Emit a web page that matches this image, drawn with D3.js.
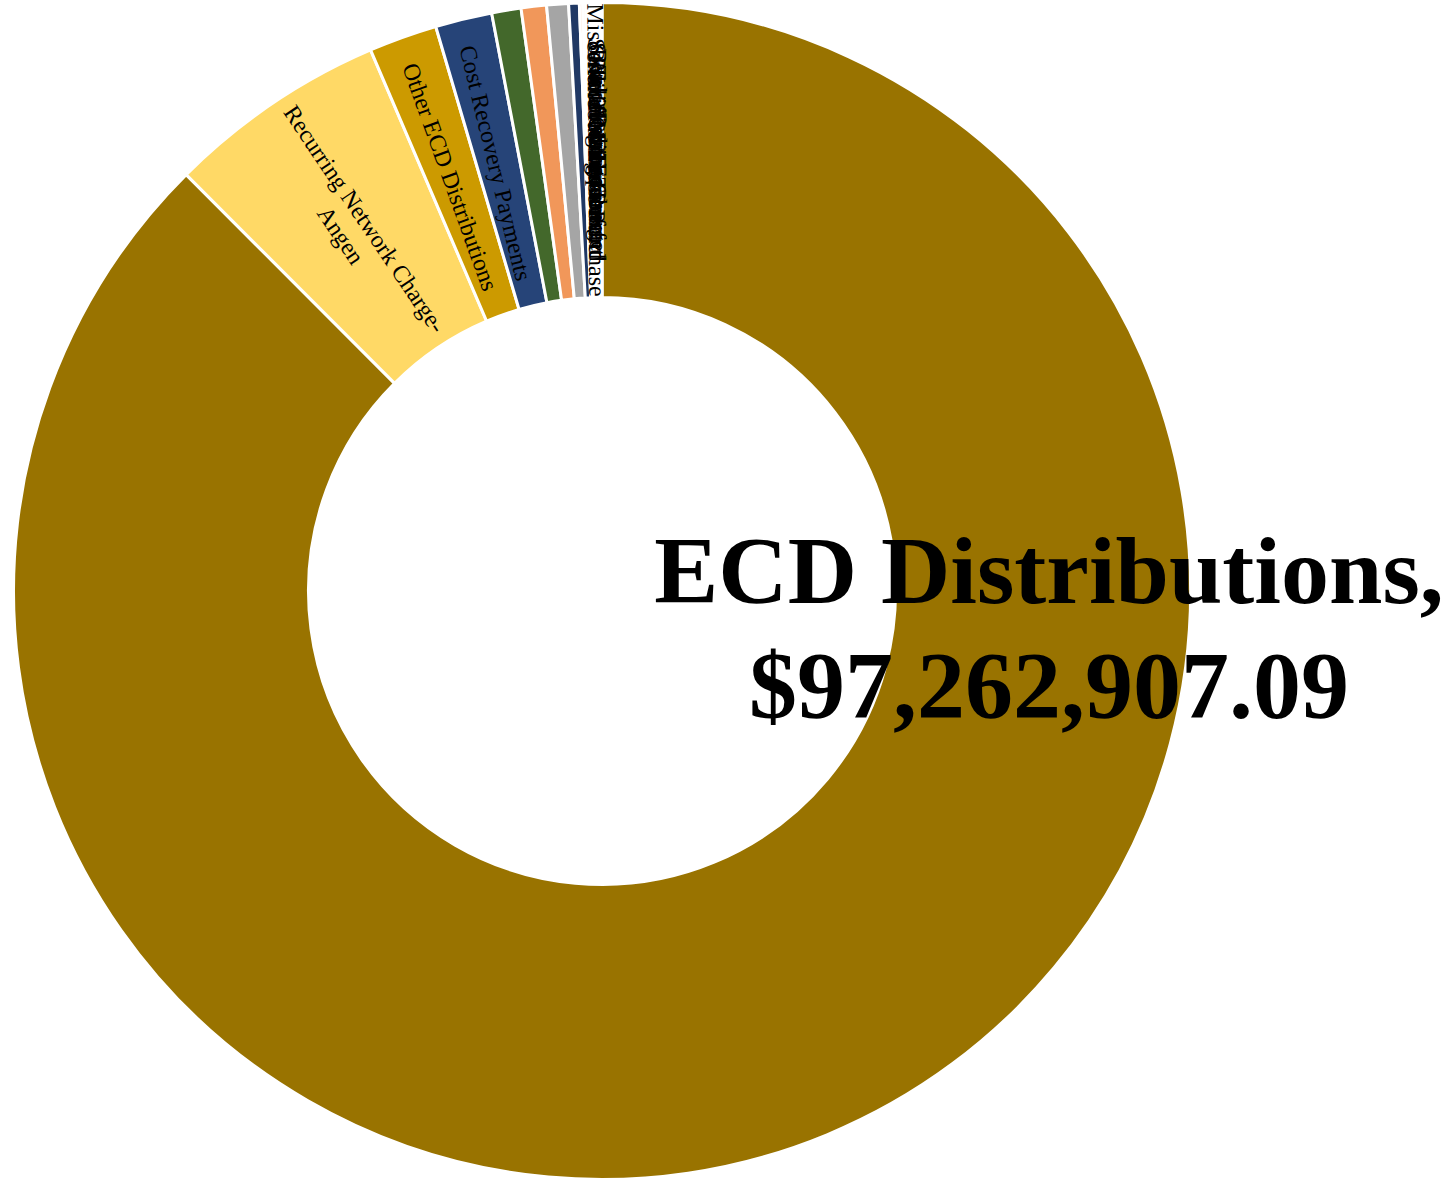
<!DOCTYPE html>
<html>
<head>
<meta charset="utf-8">
<script src="https://cdn.jsdelivr.net/npm/d3@7"></script>
<style>
  html, body { margin: 0; padding: 0; background: #ffffff; }
  svg { display: block; }
</style>
</head>
<body>
<svg id="chart" width="1448" height="1180"></svg>
<script>
// ---- Data ----
const categories = [
  "ECD Distributions",
  "Recurring Network Charge-Angen",
  "Other ECD Distributions",
  "Cost Recovery Payments",
  "Equipment Reimbursement",
  "Consulting Services",
  "Legal Services",
  "Software Maintenance",
  "Office Supplies",
  "Telephone Service",
  "Mapping Services",
  "Printing",
  "Travel",
  "Dues and Subscriptions",
  "Miscellaneous Lease Purchase",
  "Grant Reimbursement",
  "Service Charge Refund",
  "Interest Income",
  "State 911 Fee Transfer",
  "Radio Maintenance",
  "Training Expense",
  "Audit Fee",
  "Postage",
  "Bank Service Charge"
];
const values = [
  97262907.09,
  6731000,
  2084000,
  1729000,
  895000,
  772000,
  664000,
  324000,
  100000,
  95000, 93000, 92000, 90000, 88000,
  14000, 13500, 13000, 12800, 12500, 12200, 12000, 11800, 11500, 11000
];
const colors = [
  "#997300", "#FFD966", "#CC9A00", "#264478", "#43682B",
  "#F1975A", "#A5A5A5", "#203864", "#F8CBAD",
  "#FBE5D6", "#F2F2F2", "#FFF2CC", "#EDEDED", "#DEEBF7",
  "#B4C7E7", "#C5E0B4", "#FFE699", "#DBDBDB", "#BDD7EE",
  "#F8CBAD", "#C9C9C9", "#FFE699", "#B4C7E7", "#C5E0B4"
];
// which slices carry an in-ring label (others are too narrow and show none)
const showLabel = [
  false, true, true, true, false, false, false, false, false,
  false, false, false, false, false,
  true, true, true, true, true, true, true, true, true, true
];
const labelLines = {
  "Recurring Network Charge-Angen": ["Recurring Network Charge-", "Angen"]
};
const featured = 0; // index of the slice whose name/value is shown large

// ---- Layout ----
const cx = 602, cy = 591;
const outerR = 588.5, innerR = 293.5;
const labelR = (outerR + innerR) / 2;

const svg = d3.select("#chart");
const g = svg.append("g").attr("transform", `translate(${cx},${cy})`);

const data = categories.map((c, i) => ({ name: c, value: values[i], color: colors[i], label: showLabel[i] }));

const pie = d3.pie().value(d => d.value).sort(null).startAngle(0).endAngle(2 * Math.PI);
const arcs = pie(data);

const arc = d3.arc().innerRadius(innerR).outerRadius(outerR);
const labelArc = d3.arc().innerRadius(labelR).outerRadius(labelR);

g.selectAll("path.slice")
  .data(arcs)
  .join("path")
  .attr("class", "slice")
  .attr("d", arc)
  .attr("fill", d => d.data.color)
  .attr("stroke", "#ffffff")
  .attr("stroke-width", 3)
  .attr("stroke-linejoin", "miter");

// radial labels inside the ring
const fontSize = 24;
const lh = 1.2;
const lbl = g.selectAll("text.slice-label")
  .data(arcs.filter(d => d.data.label))
  .join("text")
  .attr("class", "slice-label")
  .attr("font-family", "'Liberation Serif', 'Times New Roman', serif")
  .attr("font-size", fontSize)
  .attr("fill", "#000000")
  .attr("text-anchor", "middle")
  .attr("transform", d => {
    const [x, y] = labelArc.centroid(d);
    const mid = (d.startAngle + d.endAngle) / 2 * 180 / Math.PI;
    return `translate(${x},${y}) rotate(${mid - 270})`;
  });

lbl.each(function(d) {
  const lines = labelLines[d.data.name] || [d.data.name];
  const n = lines.length;
  const t = d3.select(this);
  lines.forEach((s, i) => {
    t.append("tspan")
      .attr("x", 0)
      .attr("y", ((i - (n - 1) / 2) * lh + 0.45) * fontSize)
      .text(s);
  });
});

// large featured label
const fmt = d3.format("$,.2f");
const f = arcs[featured];
const bigSize = 96;
const big = g.append("text")
  .attr("font-family", "'Liberation Serif', 'Times New Roman', serif")
  .attr("font-weight", "bold")
  .attr("font-size", bigSize)
  .attr("fill", "#000000")
  .attr("text-anchor", "middle")
  .attr("transform", `translate(${labelR + 6},0)`);
big.append("tspan").attr("x", 0).attr("y", 12).text(f.data.name + ",");
big.append("tspan").attr("x", 0).attr("y", 12 + bigSize * 1.2).text(fmt(f.data.value));
</script>
</body>
</html>
